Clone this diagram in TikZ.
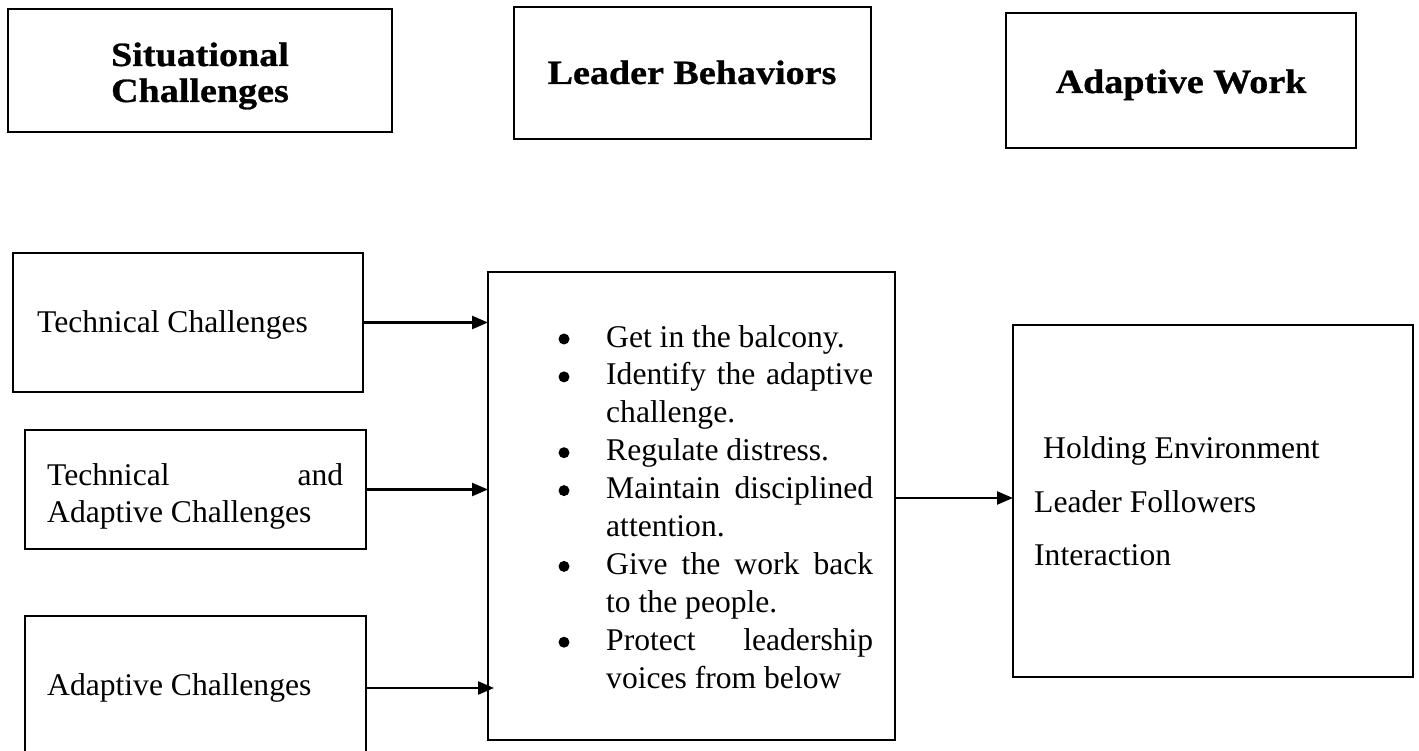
\documentclass[tikz,border=0pt]{standalone}
\usepackage{fontspec}
\setmainfont{Liberation Serif}
\newfontfamily\headfont{Liberation Serif}[FakeStretch=1.12,FakeBold=0.8]
\usetikzlibrary{arrows.meta}
\begin{document}
\begin{tikzpicture}[x=1pt,y=-1pt,
  box/.style={draw,line width=2.6pt,rectangle,anchor=north west,inner sep=0,outer sep=0},
  head/.style={font=\headfont\bfseries\fontsize{34}{36}\selectfont,inner sep=0,anchor=base},
  body/.style={font=\fontsize{31.6}{37.9}\selectfont,inner sep=0,anchor=base west},
  bul/.style={circle,fill,minimum size=11pt,inner sep=0},
  arr/.style={line width=2.3pt,-{Triangle[length=16pt,width=13pt]}}]
\useasboundingbox (0,0) rectangle (1419,751);
% top headings
\node[box,minimum width=384pt,minimum height=123pt] (sit) at (8,9) {};
\node[box,minimum width=357pt,minimum height=132pt] (lb) at (514,7) {};
\node[box,minimum width=350pt,minimum height=135pt] (aw) at (1006,13) {};
\node[head] (sit1) at (200,66) {Situational};
\node[head] (sit2) at (200,102) {Challenges};
\node[head] (lbt) at (692,84) {Leader Behaviors};
\node[head] (awt) at (1181,93) {Adaptive Work};
% left boxes
\node[box,minimum width=350pt,minimum height=139pt] (tc) at (13,253) {};
\node[box,minimum width=341pt,minimum height=119pt] (ta) at (25,430) {};
\node[box,minimum width=341pt,minimum height=144pt] (ac) at (25,616) {};
\node[body] (tct) at (37,333) {Technical Challenges};
\node[body] (ta1) at (47,485) {\makebox[296pt][s]{Technical and}};
\node[body] (ta2) at (47,522) {Adaptive Challenges};
\node[body] (act) at (47,695) {Adaptive Challenges};
% centre box
\node[box,minimum width=407pt,minimum height=468pt] (lbx) at (488,272) {};
\node[bul] (b1) at (564,339) {};
\node[bul] (b2) at (564,376.9) {};
\node[bul] (b3) at (564,452.7) {};
\node[bul] (b4) at (564,490.6) {};
\node[bul] (b5) at (564,566.4) {};
\node[bul] (b6) at (564,642.2) {};
\node[body] (l1) at (606,347) {Get in the balcony.};
\node[body] (l2) at (606,384.9) {\makebox[267pt][s]{Identify the adaptive}};
\node[body] (l3) at (606,422.8) {challenge.};
\node[body] (l4) at (606,460.7) {Regulate distress.};
\node[body] (l5) at (606,498.6) {\makebox[267pt][s]{Maintain disciplined}};
\node[body] (l6) at (606,536.5) {attention.};
\node[body] (l7) at (606,574.4) {\makebox[267pt][s]{Give the work back}};
\node[body] (l8) at (606,612.3) {to the people.};
\node[body] (l9) at (606,650.2) {\makebox[267pt][s]{Protect leadership}};
\node[body] (l10) at (606,688.1) {voices from below};
% right box
\node[box,minimum width=400pt,minimum height=352pt] (hold) at (1013,325) {};
\node[body] (h1) at (1043,458) {Holding Environment};
\node[body] (h2) at (1034,512) {Leader Followers};
\node[body] (h3) at (1034,565) {Interaction};
% connectors
\draw[arr] (tc.east) -- (tc.east -| lbx.west);
\draw[arr] (ta.east) -- (ta.east -| lbx.west);
\draw[arr,shorten >=-6pt] (ac.east) -- (ac.east -| lbx.west);
\coordinate (ro) at ([yshift=8pt]lbx.east);
\draw[arr] (ro) -- (ro -| hold.west);
\end{tikzpicture}
\end{document}
